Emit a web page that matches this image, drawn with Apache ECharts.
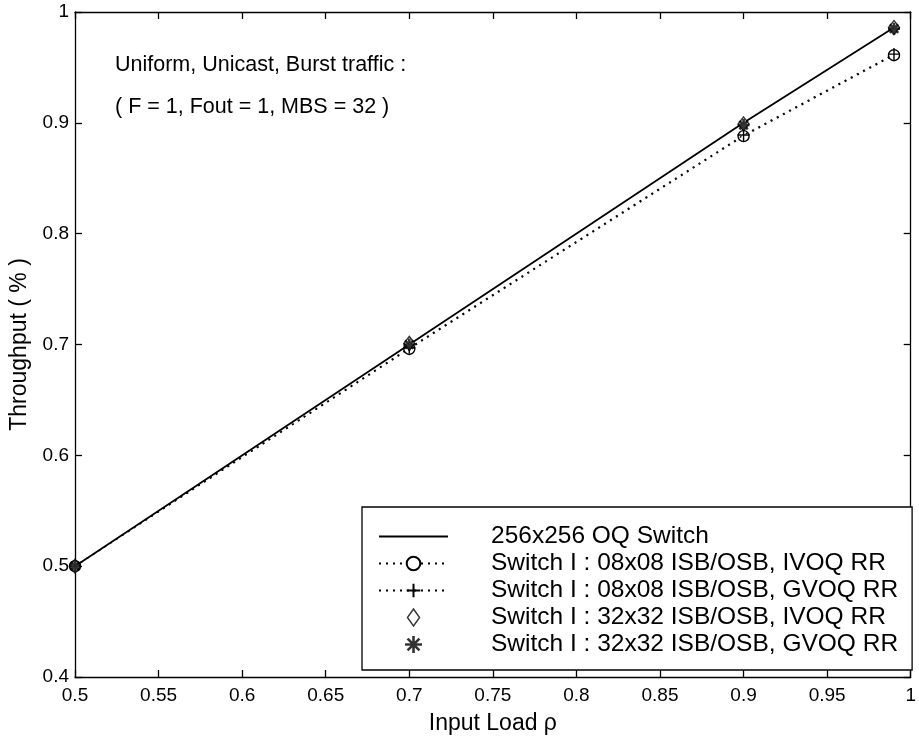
<!DOCTYPE html>
<html>
	<head>
		<meta charset="UTF-8">
		<title>Throughput vs input load</title>
	</head>
	<body style="margin:0;background:#fff;">
		<div id="echart" style="width: 919px;height: 740px;overflow: hidden;"></div>
		<script src="https://cdn.jsdelivr.net/npm/echarts@6/dist/echarts.min.js" type="text/javascript" charset="utf-8"></script>
		<script type="text/javascript">
// data
var loads = [0.5, 0.7, 0.9, 0.99];
var oq256 = [0.5, 0.7, 0.9, 0.986];
var ivoq08 = [0.5, 0.696, 0.888, 0.961];
var gvoq08 = [0.5, 0.697, 0.889, 0.962];
var ivoq32 = [0.5, 0.701, 0.899, 0.986];
var gvoq32 = [0.5, 0.700, 0.898, 0.985];
var xTicks = [0.5, 0.55, 0.6, 0.65, 0.7, 0.75, 0.8, 0.85, 0.9, 0.95, 1];
var yTicks = [0.4, 0.5, 0.6, 0.7, 0.8, 0.9, 1];
var names = [
	'256x256 OQ Switch',
	'Switch I : 08x08 ISB/OSB, IVOQ RR',
	'Switch I : 08x08 ISB/OSB, GVOQ RR',
	'Switch I : 32x32 ISB/OSB, IVOQ RR',
	'Switch I : 32x32 ISB/OSB, GVOQ RR'
];

function pairs(ys) {
	var out = [];
	for (var i = 0; i < loads.length; i++) {
		out.push([loads[i], ys[i]]);
	}
	return out;
}

var FONT = 'Liberation Sans';
var plusPath = 'path://M5,0V10M0,5H10';
var starPath = 'path://M5,0V10M0,5H10M1.5,1.5L8.5,8.5M8.5,1.5L1.5,8.5';
var diamondPath = 'path://M5,0L10,7L5,14L0,7Z';

var myChart = echarts.init(document.getElementById('echart'));

// plain box axis: line + inward ticks, no labels
function boxAxis(pos, ticks) {
	return {
		type: 'value',
		position: pos,
		min: ticks[0],
		max: ticks[ticks.length - 1],
		interval: Math.round((ticks[1] - ticks[0]) * 100) / 100,
		axisLine: { show: true, onZero: false, lineStyle: { color: '#000', width: 1.3 } },
		axisTick: { show: true, inside: true, length: 7, lineStyle: { color: '#000', width: 1.3 } },
		splitLine: { show: false },
		axisLabel: { show: false }
	};
}

var xBottom = boxAxis('bottom', xTicks);
xBottom.axisLabel = { show: true, color: '#000', fontFamily: FONT, fontSize: 19, margin: 9 };
xBottom.name = 'Input Load \u03c1';
xBottom.nameLocation = 'middle';
xBottom.nameGap = 35;
xBottom.nameTextStyle = { color: '#000', fontFamily: FONT, fontSize: 23 };
var xTop = boxAxis('top', xTicks);

var yLeft = boxAxis('left', yTicks);
yLeft.axisLabel = { show: true, color: '#000', fontFamily: FONT, fontSize: 19, margin: 6 };
yLeft.name = 'Throughput ( % )';
yLeft.nameLocation = 'middle';
yLeft.nameGap = 44;
yLeft.nameTextStyle = { color: '#000', fontFamily: FONT, fontSize: 23 };
var yRight = boxAxis('right', yTicks);

var dotted = { color: '#000', width: 1.3, type: [2, 5] };
var mark = { color: '#fff', borderColor: '#000', borderWidth: 1.4 };
var star = { color: '#000', borderColor: '#000', borderWidth: 2.6 };

myChart.setOption({
	animation: false,
	backgroundColor: '#fff',
	grid: { left: 72, top: 12, width: 848, height: 666 },
	xAxis: [xBottom, xTop],
	yAxis: [yLeft, yRight],
	legend: {
		orient: 'vertical',
		left: 362,
		bottom: 70,
		padding: [17, 14, 13, 16],
		itemGap: 2,
		itemWidth: 69,
		itemHeight: 17,
		backgroundColor: '#fff',
		borderColor: '#000',
		borderWidth: 1.3,
		borderRadius: 0,
		selectedMode: false,
		textStyle: { color: '#000', fontFamily: FONT, fontSize: 24.5, padding: [0, 0, 0, 38] },
		data: [
			{ name: names[0] },
			{ name: names[1] },
			{ name: names[2] },
			{ name: names[3], icon: diamondPath, itemStyle: mark },
			{ name: names[4], icon: starPath, itemStyle: star }
		]
	},
	graphic: [
		{ type: 'text', x: 115, y: 65, style: { text: 'Uniform, Unicast, Burst traffic :', fill: '#000', font: '21.5px "Liberation Sans"', verticalAlign: 'middle' } },
		{ type: 'text', x: 115, y: 107, style: { text: '( F = 1, Fout = 1, MBS = 32 )', fill: '#000', font: '21.5px "Liberation Sans"', verticalAlign: 'middle' } }
	],
	series: [
		{
			name: names[1], type: 'line', data: pairs(ivoq08),
			symbol: 'circle', symbolSize: 11, showAllSymbol: true,
			lineStyle: dotted, itemStyle: mark, z: 2
		},
		{
			name: names[2], type: 'line', data: pairs(gvoq08),
			symbol: plusPath, symbolSize: 12, showAllSymbol: true,
			lineStyle: dotted, itemStyle: mark, z: 3
		},
		{
			name: names[0], type: 'line', data: pairs(oq256),
			symbol: 'circle', showSymbol: false,
			lineStyle: { color: '#000', width: 1.8, type: 'solid' },
			itemStyle: { color: 'rgba(0,0,0,0)', borderWidth: 0 }, z: 4
		},
		{
			name: names[3], type: 'scatter', data: pairs(ivoq32),
			symbol: 'diamond', symbolSize: [11, 14],
			itemStyle: mark, z: 5
		},
		{
			name: names[4], type: 'scatter', data: pairs(gvoq32),
			symbol: starPath, symbolSize: 12,
			itemStyle: star, z: 6
		}
	]
});
		</script>
	</body>
</html>
